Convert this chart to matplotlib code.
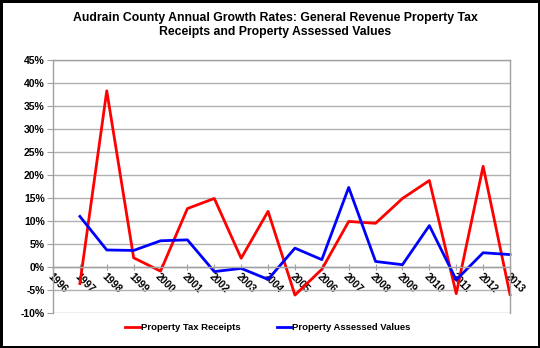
import numpy as np
import matplotlib.pyplot as plt

plt.rcParams['font.family'] = ['Liberation Sans', 'DejaVu Sans']
plt.rcParams['font.weight'] = 'bold'

# Jahre auf der Achse (1996 ohne Werte)
years = [str(y) for y in range(1996, 2014)]
data_years = years[1:]

# Wachstumsraten in %
tax_receipts = [-3.6, 38.3, 2.0, -0.9, 12.7, 14.9, 1.9, 12.1, -6.1, -0.5,
                9.9, 9.5, 14.9, 18.8, -5.8, 21.9, -6.0]
assessed_values = [11.0, 3.7, 3.6, 5.7, 5.9, -1.0, -0.3, -2.7, 4.1, 1.6,
                   17.3, 1.2, 0.5, 9.0, -2.8, 3.1, 2.7]

fig = plt.figure(figsize=(5.4, 3.48), dpi=100)
fig.patch.set_edgecolor('black')
fig.patch.set_linewidth(2.5)
ax = fig.add_axes([53/540, 1 - 313/348, (510 - 53)/540, (313 - 60)/348])

x = np.arange(len(years))
xd = x[1:]
ax.plot(xd, tax_receipts, color='#ff0000', lw=2, label='Property Tax Receipts', clip_on=False)
ax.plot(xd, assessed_values, color='#0000ff', lw=2, label='Property Assessed Values', clip_on=False)

ax.set_xlim(0, len(years) - 1)
ax.set_ylim(-10, 45)
ax.set_yticks(np.arange(-10, 46, 5))
ax.set_yticklabels([f'{v}%' for v in range(-10, 46, 5)], fontsize=7.5, fontweight='bold')
ax.yaxis.grid(True, color='#b0b0b0', lw=1)
ax.set_axisbelow(True)

for s in ['top', 'right', 'left']:
    ax.spines[s].set_color('#a0a0a0')
    ax.spines[s].set_linewidth(1)
ax.spines['bottom'].set_position(('data', 0))
ax.spines['bottom'].set_color('#a0a0a0')
ax.spines['bottom'].set_linewidth(1)

ax.set_xticks(x)
ax.set_xticklabels(years, fontsize=7.5, fontweight='bold', rotation=-45,
                   rotation_mode='anchor', ha='left', va='top')
ax.tick_params(axis='x', length=4, direction='inout', color='#a0a0a0', pad=1)
ax.tick_params(axis='y', length=4, color='#a0a0a0', pad=2)

fig.text(0.51, 0.965, 'Audrain County Annual Growth Rates: General Revenue Property Tax\nReceipts and Property Assessed Values',
         ha='center', va='top', fontsize=8.8, fontweight='bold', linespacing=1.25)

fig.legend(loc='center', bbox_to_anchor=(268/540, 1 - 328/348), ncol=2, frameon=False,
           handlelength=1.5, handletextpad=0.1, columnspacing=3.9,
           prop={'weight': 'bold', 'size': 6.8})

fig.savefig('out.png', dpi=100)
